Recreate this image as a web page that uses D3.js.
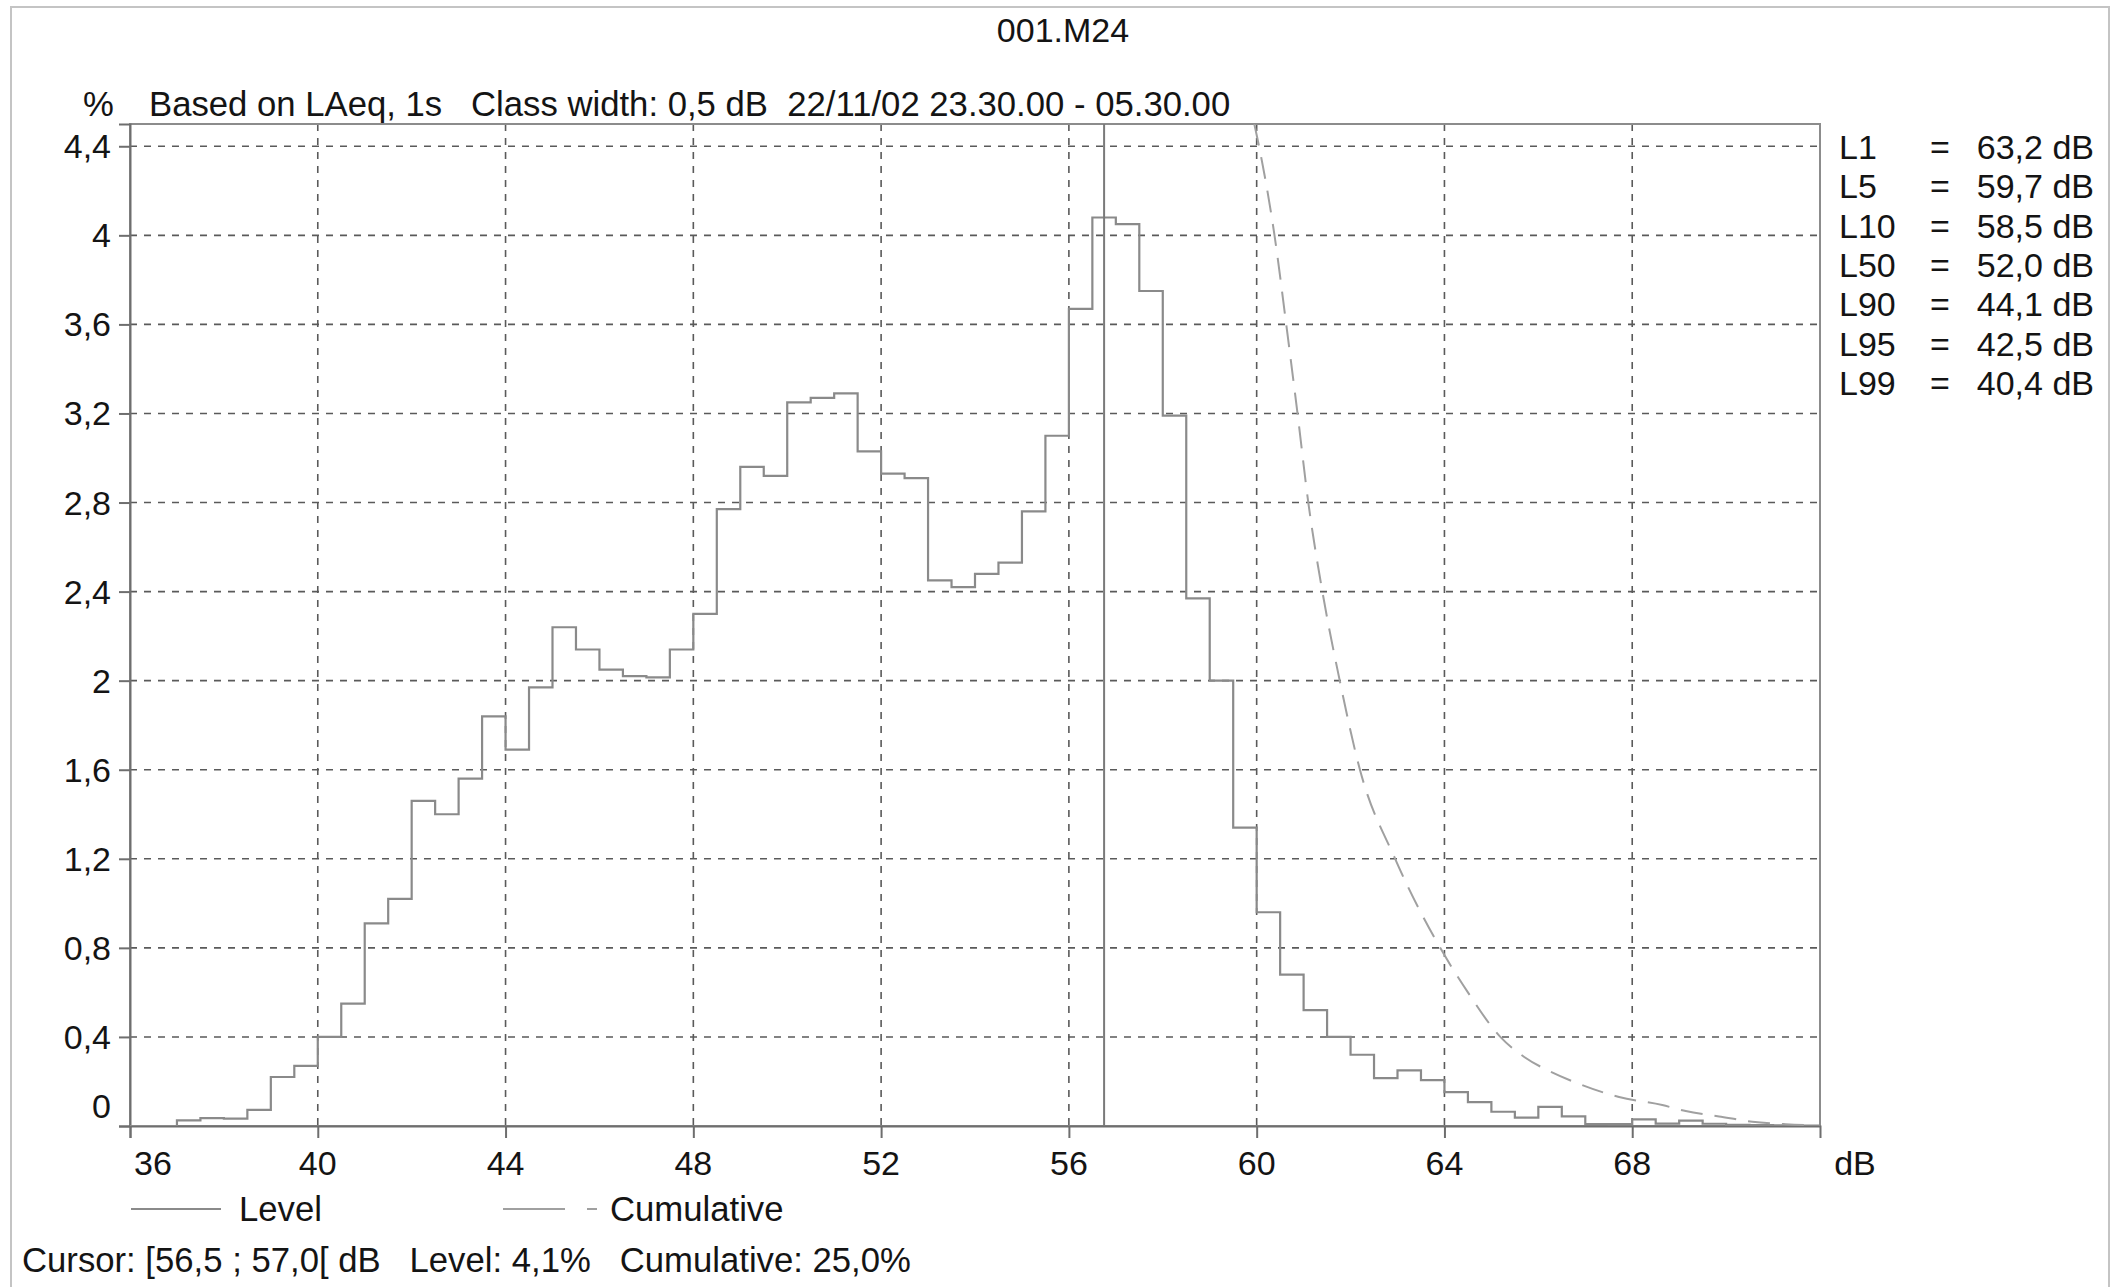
<!DOCTYPE html>
<html>
<head>
<meta charset="utf-8">
<script src="https://cdn.jsdelivr.net/npm/d3@7"></script>
<style>
  html, body { margin: 0; padding: 0; background: #ffffff; }
  svg { display: block; }
  text { font-family: "Liberation Sans", Arial, sans-serif; fill: #141414; }
</style>
</head>
<body>
<svg id="chart" width="2120" height="1287"></svg>
<script>
// ---------- data ----------
const title = "001.M24";
const subtitle = "Based on LAeq, 1s   Class width: 0,5 dB  22/11/02 23.30.00 - 05.30.00";
const yUnit = "%";
const xUnit = "dB";

// class (bin) lower edges, dB, class width 0.5 dB
const binStarts = [36,36.5,37,37.5,38,38.5,39,39.5,40,40.5,41,41.5,42,42.5,43,43.5,44,44.5,45,45.5,
  46,46.5,47,47.5,48,48.5,49,49.5,50,50.5,51,51.5,52,52.5,53,53.5,54,54.5,55,55.5,
  56,56.5,57,57.5,58,58.5,59,59.5,60,60.5,61,61.5,62,62.5,63,63.5,64,64.5,65,65.5,
  66,66.5,67,67.5,68,68.5,69,69.5,70,70.5,71,71.5];
// level (% of time in class)
const levelPct = [0,0,0.025,0.035,0.033,0.072,0.22,0.27,0.40,0.55,0.91,1.02,1.46,1.40,1.56,1.84,1.69,1.97,2.24,2.14,
  2.05,2.02,2.015,2.14,2.30,2.77,2.96,2.92,3.25,3.27,3.29,3.03,2.93,2.91,2.45,2.42,2.48,2.53,2.76,3.10,
  3.67,4.08,4.05,3.75,3.19,2.37,2.00,1.34,0.96,0.68,0.52,0.40,0.32,0.215,0.25,0.206,0.152,0.107,0.064,0.038,
  0.086,0.043,0.009,0.008,0.03,0.011,0.024,0.01,0.005,0.004,0.003,0.002];

// cumulative curve (% of time exceeded)
const cumLevel = [59.95,60.05,60.38,60.63,60.87,61.1,61.4,61.77,62.2,62.95,63.91,64.5,65.19,65.7,66.2,66.86,67.72,68.64,69.14,69.85,70.56,71.27,71.9];
const cumPct   = [4.5,4.4,4.0,3.6,3.2,2.8,2.4,2.0,1.6,1.2,0.8,0.6,0.4,0.31,0.25,0.19,0.13,0.094,0.067,0.043,0.019,0.008,0.003];

const xTicks = [36,40,44,48,52,56,60,64,68];
const xTickLabels = ["36","40","44","48","52","56","60","64","68"];
const yTicks = [0,0.4,0.8,1.2,1.6,2,2.4,2.8,3.2,3.6,4,4.4];
const yTickLabels = ["0","0,4","0,8","1,2","1,6","2","2,4","2,8","3,2","3,6","4","4,4"];

const statNames  = ["L1","L5","L10","L50","L90","L95","L99"];
const statValues = ["63,2 dB","59,7 dB","58,5 dB","52,0 dB","44,1 dB","42,5 dB","40,4 dB"];

const legendNames = ["Level","Cumulative"];
const cursorLevel = 56.75;
const cursorText = "Cursor: [56,5 ; 57,0[ dB   Level: 4,1%   Cumulative: 25,0%";

// ---------- layout ----------
const svg = d3.select("#chart");
const L = 130, R = 1820, T = 124, B = 1126;
const x = d3.scaleLinear().domain([36, 72]).range([L, R]);
const y = d3.scaleLinear().domain([0, 4.5]).range([B, T]);
const FS = 34;
const FS2 = 34.7;

// outer faint border
svg.append("rect").attr("x", 11).attr("y", 7).attr("width", 2098).attr("height", 1300)
  .attr("fill", "none").attr("stroke", "#c4c4c4").attr("stroke-width", 2);

// title + subtitle
svg.append("text").attr("x", 1063).attr("y", 42).attr("text-anchor", "middle")
  .attr("font-size", FS).text(title);
svg.append("text").attr("x", 83).attr("y", 116).attr("font-size", FS2).text(yUnit);
svg.append("text").attr("x", 149).attr("y", 116).attr("font-size", FS2)
  .style("white-space", "pre").text(subtitle);

// clip
svg.append("clipPath").attr("id", "plotclip").append("rect")
  .attr("x", L).attr("y", T).attr("width", R - L).attr("height", B - T);

// gridlines
const grid = svg.append("g");
grid.selectAll("line.h").data(yTicks.filter(d => d > 0)).join("line")
  .attr("x1", L).attr("x2", R).attr("y1", d => y(d)).attr("y2", d => y(d))
  .attr("stroke", "#5a5a5a").attr("stroke-width", 1.6).attr("stroke-dasharray", "7,7");
grid.selectAll("line.v").data(xTicks.filter(d => d > 36)).join("line")
  .attr("x1", d => x(d)).attr("x2", d => x(d)).attr("y1", T).attr("y2", B)
  .attr("stroke", "#5a5a5a").attr("stroke-width", 1.6).attr("stroke-dasharray", "7,7");

// frame
svg.append("rect").attr("x", L).attr("y", T).attr("width", R - L).attr("height", B - T)
  .attr("fill", "none").attr("stroke", "#8c8c8c").attr("stroke-width", 2);

// axes with ticks
const yAxis = d3.axisLeft(y).tickValues(yTicks).tickSize(11).tickFormat("");
const gy = svg.append("g").attr("transform", `translate(${L},0)`).call(yAxis);
const xAxis = d3.axisBottom(x).tickValues(xTicks).tickSize(12).tickFormat("");
const gx = svg.append("g").attr("transform", `translate(0,${B})`).call(xAxis);
[gx, gy].forEach(g => {
  g.selectAll("path.domain").attr("stroke", "#6e6e6e").attr("stroke-width", 2);
  g.selectAll(".tick line").attr("stroke", "#6e6e6e").attr("stroke-width", 2);
});

// y tick labels
svg.append("g").selectAll("text").data(yTicks).join("text")
  .attr("x", 111).attr("y", (d, i) => (i === 0 ? y(d) - 20 : y(d)) + 12)
  .attr("text-anchor", "end").attr("font-size", FS)
  .text((d, i) => yTickLabels[i]);

// x tick labels
svg.append("g").selectAll("text").data(xTicks).join("text")
  .attr("x", (d, i) => i === 0 ? x(d) + 4 : x(d))
  .attr("y", 1175)
  .attr("text-anchor", (d, i) => i === 0 ? "start" : "middle")
  .attr("font-size", FS)
  .text((d, i) => xTickLabels[i]);
svg.append("text").attr("x", 1855).attr("y", 1175).attr("text-anchor", "middle")
  .attr("font-size", FS).text(xUnit);

// histogram (step line)
const histData = binStarts.map((b, i) => ({ x: b, v: levelPct[i] }));
histData.push({ x: 72, v: levelPct[levelPct.length - 1] });
const stepLine = d3.line().x(d => x(d.x)).y(d => y(d.v)).curve(d3.curveStepAfter);
svg.append("path").datum(histData).attr("d", stepLine)
  .attr("fill", "none").attr("stroke", "#8a8a8a").attr("stroke-width", 2.2)
  .attr("clip-path", "url(#plotclip)");

// cumulative (dashed)
const cumData = cumLevel.map((l, i) => ({ x: l, v: cumPct[i] }));
const cumLine = d3.line().x(d => x(d.x)).y(d => y(d.v)).curve(d3.curveMonotoneX);
svg.append("path").datum(cumData).attr("d", cumLine)
  .attr("fill", "none").attr("stroke", "#a0a0a0").attr("stroke-width", 2)
  .attr("stroke-dasharray", "22,12").attr("clip-path", "url(#plotclip)");

// cursor line
svg.append("line").attr("x1", x(cursorLevel)).attr("x2", x(cursorLevel))
  .attr("y1", T).attr("y2", B).attr("stroke", "#7a7a7a").attr("stroke-width", 2);

// statistics (right)
const stats = svg.append("g");
statNames.forEach((n, i) => {
  const yy = 147 + i * 39.3 + 12;
  stats.append("text").attr("x", 1839).attr("y", yy).attr("font-size", FS).text(n);
  stats.append("text").attr("x", 1940).attr("y", yy).attr("text-anchor", "middle").attr("font-size", FS).text("=");
  stats.append("text").attr("x", 2094).attr("y", yy).attr("text-anchor", "end").attr("font-size", FS).text(statValues[i]);
});

// legend
const ly = 1209;
svg.append("line").attr("x1", 131).attr("x2", 221).attr("y1", ly).attr("y2", ly)
  .attr("stroke", "#8a8a8a").attr("stroke-width", 2);
svg.append("text").attr("x", 239).attr("y", ly + 12).attr("font-size", FS2).text(legendNames[0]);
svg.append("line").attr("x1", 503).attr("x2", 597).attr("y1", ly).attr("y2", ly)
  .attr("stroke", "#a0a0a0").attr("stroke-width", 2).attr("stroke-dasharray", "62,22");
svg.append("text").attr("x", 610).attr("y", ly + 12).attr("font-size", FS2).text(legendNames[1]);

// cursor info
svg.append("text").attr("x", 22).attr("y", 1272).attr("font-size", FS2)
  .style("white-space", "pre").text(cursorText);
</script>
</body>
</html>
